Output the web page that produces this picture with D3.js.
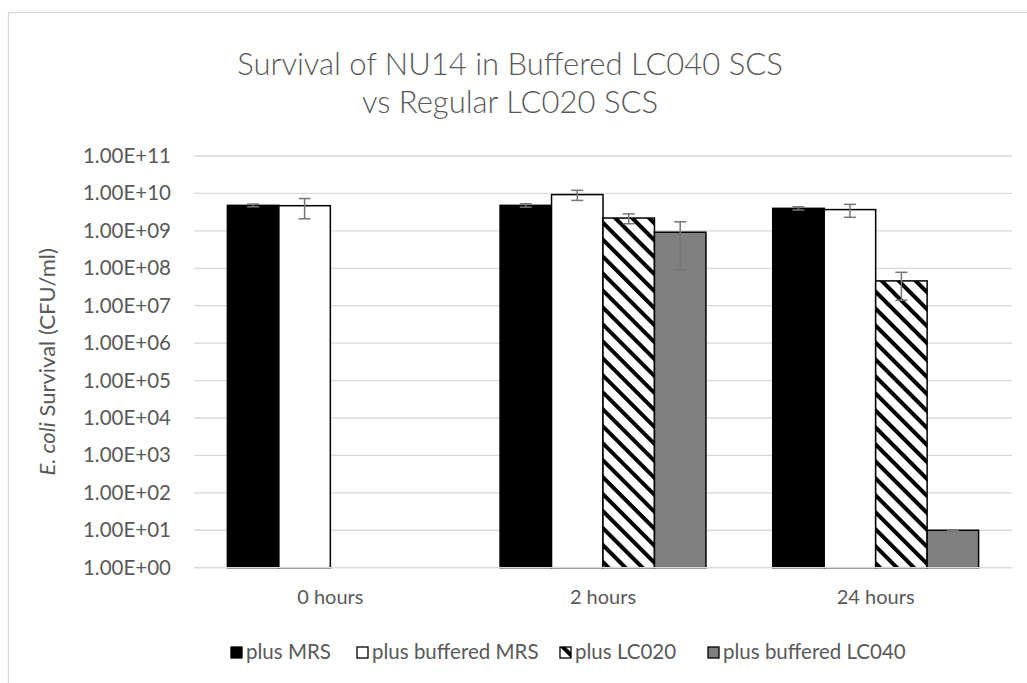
<!DOCTYPE html>
<html>
<head>
<meta charset="utf-8">
<script src="https://cdn.jsdelivr.net/npm/d3@7"></script>
<style>
  body { margin: 0; background: #fff; }
  text { font-family: Lato, "Open Sans", sans-serif; fill: #595959; }
</style>
</head>
<body>
<div id="chart"></div>
<script>
// data
var categories = ["0 hours", "2 hours", "24 hours"];
var seriesNames = ["plus MRS", "plus buffered MRS", "plus LC020", "plus buffered LC040"];
var mrs = [4.8e9, 4.8e9, 4.0e9];
var mrsErr = [0.4e9, 0.5e9, 0.4e9];
var bufMrs = [4.7e9, 9.3e9, 3.7e9];
var bufMrsErr = [2.6e9, 2.8e9, 1.4e9];
var lc020 = [null, 2.2e9, 4.6e7];
var lc020Err = [null, 0.65e9, 3.2e7];
var lc040 = [null, 9.2e8, 10];
var lc040Err = [null, 8.3e8, 0.2];
var yTicks = [1, 1e1, 1e2, 1e3, 1e4, 1e5, 1e6, 1e7, 1e8, 1e9, 1e10, 1e11];
var yTickLabels = ["1.00E+00", "1.00E+01", "1.00E+02", "1.00E+03", "1.00E+04", "1.00E+05",
  "1.00E+06", "1.00E+07", "1.00E+08", "1.00E+09", "1.00E+10", "1.00E+11"];

var width = 1027, height = 683,
margin = {top: 156, right: 15, bottom: 115.3, left: 194};

var values = [mrs, bufMrs, lc020, lc040];
var errors = [mrsErr, bufMrsErr, lc020Err, lc040Err];
var fills = ["#000000", "#ffffff", "url(#hatch)", "#808080"];

var svg = d3.select("#chart").append("svg")
.attr("width", width)
.attr("height", height);

// hatch pattern for LC020 (downward diagonal)
var pat = svg.append("defs").append("pattern")
.attr("id", "hatch")
.attr("patternUnits", "userSpaceOnUse")
.attr("width", 12).attr("height", 12)
.attr("patternTransform", "rotate(-45)");
pat.append("rect").attr("width", 12).attr("height", 12).attr("fill", "#fff");
pat.append("rect").attr("width", 4).attr("height", 12).attr("fill", "#000");

// outer chart frame (clipped by page on right/bottom)
svg.append("rect")
.attr("x", 8.5).attr("y", 12.5)
.attr("width", 1040).attr("height", 700)
.attr("fill", "none").attr("stroke", "#d9d9d9").attr("stroke-width", 1.3);

var innerW = width - margin.left - margin.right,
innerH = height - margin.top - margin.bottom;

var g = svg.append("g").attr("transform", `translate(${margin.left},${margin.top})`);

var x0 = d3.scaleBand().domain(categories).range([0, innerW]).paddingInner(0.245).paddingOuter(0.1225);
var x1 = d3.scaleBand().domain(seriesNames).range([0, x0.bandwidth()]);
var y = d3.scaleLog().domain([1, 1e11]).range([innerH, 0]);

// gridlines
g.append("g").selectAll("line")
.data(yTicks)
.enter().append("line")
.attr("x1", 0).attr("x2", innerW)
.attr("y1", d => y(d)).attr("y2", d => y(d))
.attr("stroke", "#d9d9d9").attr("stroke-width", 1.3);

// y axis labels
var yAxis = d3.axisLeft(y).tickValues(yTicks).tickSize(0).tickPadding(23)
.tickFormat((d, i) => yTickLabels[i]);
g.append("g").call(yAxis)
.call(a => a.select(".domain").remove())
.selectAll("text")
.style("font-size", "20.5px").attr("fill", "#595959");

// bars
seriesNames.forEach(function(s, si) {
  var rows = categories.map((c, ci) => ({c: c, v: values[si][ci], e: errors[si][ci]}))
  .filter(d => d.v != null);
  g.selectAll(".bar-" + si)
  .data(rows)
  .enter().append("rect")
  .attr("class", "bar-" + si)
  .attr("x", d => x0(d.c) + x1(s))
  .attr("y", d => y(d.v))
  .attr("width", x1.bandwidth())
  .attr("height", d => y(1) - y(d.v))
  .attr("fill", fills[si])
  .attr("stroke", "#000").attr("stroke-width", 1.5);
});

// error bars
seriesNames.forEach(function(s, si) {
  var rows = categories.map((c, ci) => ({c: c, v: values[si][ci], e: errors[si][ci]}))
  .filter(d => d.v != null);
  var eg = g.selectAll(".err-" + si)
  .data(rows)
  .enter().append("g")
  .attr("class", "err-" + si)
  .attr("transform", d => `translate(${x0(d.c) + x1(s) + x1.bandwidth() / 2},0)`)
  .attr("stroke", "#767676").attr("stroke-width", 1.5);
  eg.append("line").attr("y1", d => y(d.v + d.e)).attr("y2", d => y(Math.max(d.v - d.e, 1)));
  eg.append("line").attr("x1", -6).attr("x2", 6).attr("y1", d => y(d.v + d.e)).attr("y2", d => y(d.v + d.e));
  eg.append("line").attr("x1", -6).attr("x2", 6).attr("y1", d => y(Math.max(d.v - d.e, 1))).attr("y2", d => y(Math.max(d.v - d.e, 1)));
});

// x axis baseline and labels
g.append("line").attr("x1", 0).attr("x2", innerW).attr("y1", innerH).attr("y2", innerH)
.attr("stroke", "#d9d9d9").attr("stroke-width", 1.3);
var xAxis = d3.axisBottom(x0).tickSize(0).tickPadding(22);
g.append("g").attr("transform", `translate(0,${innerH})`).call(xAxis)
.call(a => a.select(".domain").remove())
.selectAll("text")
.style("font-size", "20px").attr("fill", "#595959");

// title
var title = svg.append("text").attr("text-anchor", "middle")
.style("font-size", "31px").style("font-weight", 300);
title.append("tspan").attr("x", 510).attr("y", 75).text("Survival of NU14 in Buffered LC040 SCS");
title.append("tspan").attr("x", 510).attr("y", 113).text("vs Regular LC020 SCS");

// y axis title
var yt = svg.append("text")
.attr("transform", `translate(55,${margin.top + innerH / 2}) rotate(-90)`)
.attr("text-anchor", "middle").style("font-size", "22px");
yt.append("tspan").style("font-style", "italic").text("E. coli");
yt.append("tspan").text(" Survival (CFU/ml)");

// legend
var legX = [231, 357, 560, 708];
var leg = svg.append("g").selectAll("g")
.data(seriesNames)
.enter().append("g")
.attr("transform", (d, i) => `translate(${legX[i]},647)`);
leg.append("rect").attr("width", 11).attr("height", 11)
.attr("fill", (d, i) => fills[i]).attr("stroke", "#000").attr("stroke-width", 1.3);
leg.append("text").attr("x", 15).attr("y", 12).style("font-size", "20.5px").text(d => d);
</script>
</body>
</html>
